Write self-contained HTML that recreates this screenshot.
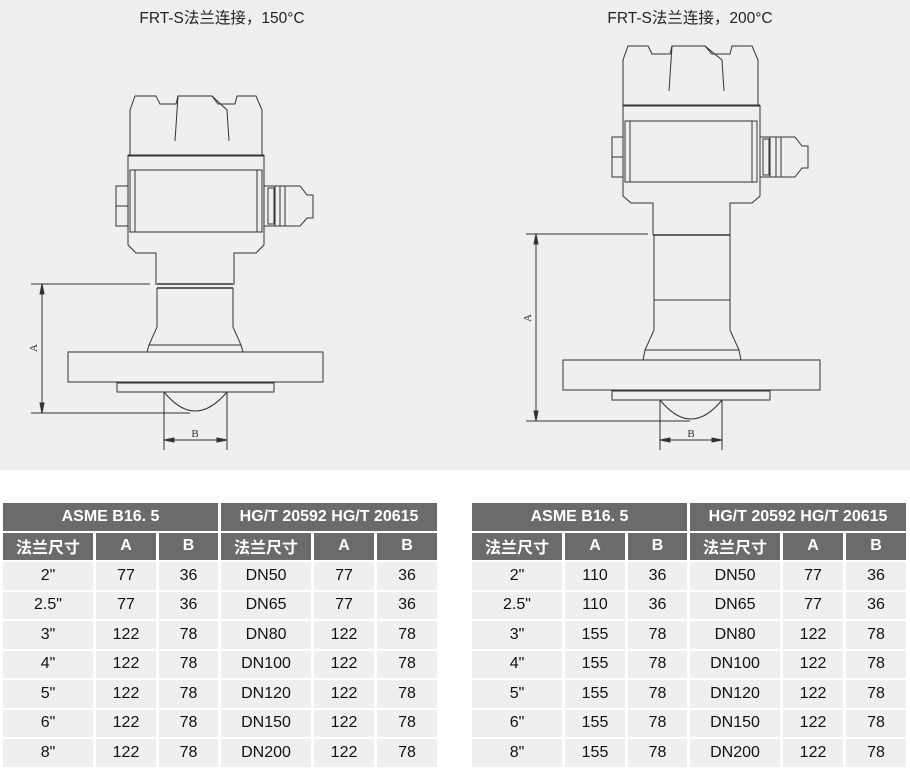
<!DOCTYPE html>
<html><head><meta charset="utf-8"><style>
body{margin:0;width:910px;height:768px;background:#fff;position:relative;overflow:hidden;font-family:"Liberation Sans","Noto Sans CJK SC",sans-serif}
.top{position:absolute;left:0;top:0;width:910px;height:470px;background:#efefef}
table{position:absolute;top:501px;border-collapse:separate;border-spacing:3px 2px;table-layout:fixed}
td{background:#efefef;color:#111;font-size:16px;text-align:center;height:27.5px;padding:0}
tr.h td{background:#6b6b6b;color:#fff;font-weight:bold;font-size:16px}
</style></head><body>
<div class="top">
<svg width="910" height="470" viewBox="0 0 910 470" fill="none" stroke="#333" stroke-width="1">
<text x="222" y="23" fill="#222" stroke="none" font-size="15.5" text-anchor="middle" font-family="Liberation Sans,Noto Sans CJK SC,sans-serif">FRT-S法兰连接，150°C</text>
<text x="690" y="23" fill="#222" stroke="none" font-size="15.5" text-anchor="middle" font-family="Liberation Sans,Noto Sans CJK SC,sans-serif">FRT-S法兰连接，200°C</text>
<g>
<path d="M130 155 L130 110 L135 96 L156 96 L160 104 L176 104 L178 96 L212 96 L218 104 L235 104 L237 96 L256 96 L262 110 L262 155"/>
<path d="M178 96 L175 141 M212 96 L227 110 L229 141"/>
<path d="M128 155 L264 155 M128 156 L264 156"/>
<path d="M128 155 L128 245 L136 253 L156 253 L156 285 M264 155 L264 245 L256 253 L234 253 L234 285"/>
<rect x="130" y="170" width="132" height="62"/><rect x="135" y="170" width="122" height="62"/>
<rect x="116" y="186" width="12" height="40"/><path d="M116 206 L128 206"/>
<path d="M264 186 L275 186 M264 226 L275 226"/><rect x="268" y="188" width="6" height="36"/>
<path d="M275 186 L300 186 L307 195 L313 195 L313 218 L307 218 L300 226 L275 226 Z M280 186 L280 226 M285 186 L285 226"/>
<path d="M157 284 L233 284 M157 288 L233 288" stroke-width="1.5"/>
<path d="M157 288 L157 327 L149 345 L147 352 M233 288 L233 327 L241 345 L243 352 M149 345 L241 345"/>
<rect x="68" y="352" width="255" height="30"/>
<rect x="117" y="383" width="157" height="9"/>
<path d="M164 392 Q195 430 227 392"/>
<path d="M31 284 L150 284 M31 413 L190 413 M42 284 L42 413"/>
<path d="M42 284 l-2 10 l4 0 z M42 413 l-2 -10 l4 0 z" fill="#333"/>
<text x="0" y="0" transform="translate(37 348) rotate(-90)" fill="#333" stroke="none" font-size="11" font-family="Liberation Serif,serif" text-anchor="middle">A</text>
<path d="M164 392 L164 450 M227 392 L227 450 M164 440 L227 440"/>
<path d="M164 440 l10 -2 l0 4 z M227 440 l-10 -2 l0 4 z" fill="#333"/>
<text x="195" y="437" fill="#333" stroke="none" font-size="11" font-family="Liberation Serif,serif" text-anchor="middle">B</text>
</g>
<g>
<path d="M623 105 L623 60 L628 46 L648 46 L652 54 L670 54 L672 46 L705 46 L712 54 L730 54 L732 46 L752 46 L758 60 L758 105"/>
<path d="M672 46 L669 91 M705 46 L722 60 L724 91"/>
<path d="M623 105 L760 105 M623 106 L760 106"/>
<path d="M623 105 L623 196 L631 203 L653 203 L653 235 M760 105 L760 196 L752 203 L730 203 L730 235"/>
<rect x="625" y="121" width="132" height="61"/><rect x="630" y="121" width="122" height="61"/>
<rect x="612" y="137" width="11" height="40"/><path d="M612 157 L623 157"/>
<path d="M760 137 L770 137 M760 177 L770 177"/><rect x="763" y="139" width="6" height="36"/>
<path d="M770 137 L795 137 L802 146 L808 146 L808 168 L802 168 L795 177 L770 177 Z M776 137 L776 177 M781 137 L781 177"/>
<path d="M653 235 L730 235" stroke-width="1.5"/>
<path d="M654 235 L654 330 L645 350 L643 360 M730 235 L730 330 L739 350 L741 360 M654 300 L730 300 M645 350 L739 350"/>
<rect x="563" y="360" width="257" height="30"/>
<rect x="612" y="391" width="158" height="9"/>
<path d="M660 400 Q691 438 722 400"/>
<path d="M526 234 L648 234 M526 421 L690 421 M536 234 L536 421"/>
<path d="M536 234 l-2 10 l4 0 z M536 421 l-2 -10 l4 0 z" fill="#333"/>
<text x="0" y="0" transform="translate(531 318) rotate(-90)" fill="#333" stroke="none" font-size="11" font-family="Liberation Serif,serif" text-anchor="middle">A</text>
<path d="M660 400 L660 450 M722 400 L722 450 M660 440 L722 440"/>
<path d="M660 440 l10 -2 l0 4 z M722 440 l-10 -2 l0 4 z" fill="#333"/>
<text x="691" y="437" fill="#333" stroke="none" font-size="11" font-family="Liberation Serif,serif" text-anchor="middle">B</text>
</g>
</svg>
</div>
<table style="left:0;width:440px">
<colgroup><col style="width:90px"><col style="width:60px"><col style="width:59px"><col style="width:90px"><col style="width:60px"><col style="width:60px"></colgroup>
<tr class="h"><td colspan="3">ASME B16. 5</td><td colspan="3">HG/T 20592 HG/T 20615</td></tr>
<tr class="h"><td>法兰尺寸</td><td>A</td><td>B</td><td>法兰尺寸</td><td>A</td><td>B</td></tr>
<tr><td>2"</td><td>77</td><td>36</td><td>DN50</td><td>77</td><td>36</td></tr>
<tr><td>2.5"</td><td>77</td><td>36</td><td>DN65</td><td>77</td><td>36</td></tr>
<tr><td>3"</td><td>122</td><td>78</td><td>DN80</td><td>122</td><td>78</td></tr>
<tr><td>4"</td><td>122</td><td>78</td><td>DN100</td><td>122</td><td>78</td></tr>
<tr><td>5"</td><td>122</td><td>78</td><td>DN120</td><td>122</td><td>78</td></tr>
<tr><td>6"</td><td>122</td><td>78</td><td>DN150</td><td>122</td><td>78</td></tr>
<tr><td>8"</td><td>122</td><td>78</td><td>DN200</td><td>122</td><td>78</td></tr>
</table>
<table style="left:469px;width:440px">
<colgroup><col style="width:90px"><col style="width:60px"><col style="width:59px"><col style="width:90px"><col style="width:60px"><col style="width:60px"></colgroup>
<tr class="h"><td colspan="3">ASME B16. 5</td><td colspan="3">HG/T 20592 HG/T 20615</td></tr>
<tr class="h"><td>法兰尺寸</td><td>A</td><td>B</td><td>法兰尺寸</td><td>A</td><td>B</td></tr>
<tr><td>2"</td><td>110</td><td>36</td><td>DN50</td><td>77</td><td>36</td></tr>
<tr><td>2.5"</td><td>110</td><td>36</td><td>DN65</td><td>77</td><td>36</td></tr>
<tr><td>3"</td><td>155</td><td>78</td><td>DN80</td><td>122</td><td>78</td></tr>
<tr><td>4"</td><td>155</td><td>78</td><td>DN100</td><td>122</td><td>78</td></tr>
<tr><td>5"</td><td>155</td><td>78</td><td>DN120</td><td>122</td><td>78</td></tr>
<tr><td>6"</td><td>155</td><td>78</td><td>DN150</td><td>122</td><td>78</td></tr>
<tr><td>8"</td><td>155</td><td>78</td><td>DN200</td><td>122</td><td>78</td></tr>
</table>
</body></html>
